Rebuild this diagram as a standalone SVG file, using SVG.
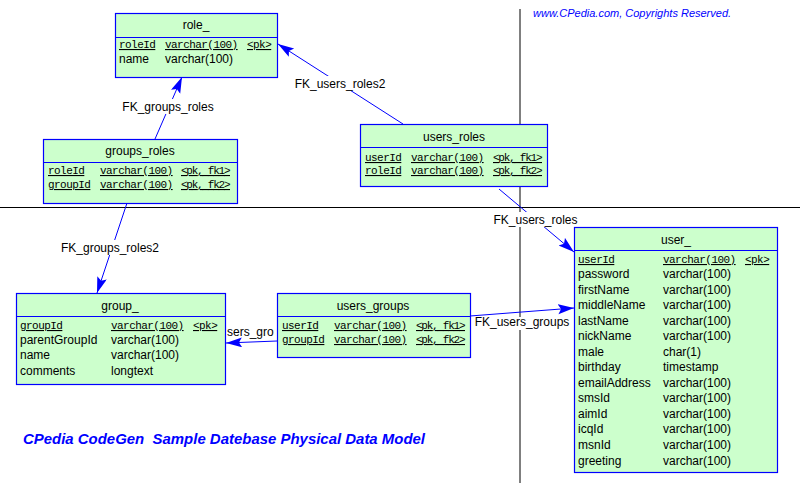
<svg xmlns="http://www.w3.org/2000/svg" width="810" height="483" viewBox="0 0 810 483">
<style>
.box{fill:#CCFFCC;stroke:#0000FF;stroke-width:1.2}
.div{stroke:#0000FF;stroke-width:1.2}
.t{font-family:"Liberation Sans",Arial,sans-serif;font-size:12px;fill:#000}
.ttl{font-family:"Liberation Sans",Arial,sans-serif;font-size:12px;fill:#000;text-anchor:middle}
.pk{font-family:"Liberation Mono","Courier New",monospace;font-size:11px;letter-spacing:-0.55px;fill:#000;text-decoration:underline}
.conn{stroke:#0000FF;stroke-width:1;fill:none;marker-end:url(#arr)}
.lbl{font-family:"Liberation Sans",Arial,sans-serif;font-size:12px;fill:#000;text-anchor:middle}
.bg{fill:#fff}
</style>
<defs>
<marker id="arr" markerUnits="userSpaceOnUse" markerWidth="17" markerHeight="11" refX="16" refY="5" orient="auto">
<path d="M0,0 L16,5 L0,10 L3,5 z" fill="#0000FF"/>
</marker>
</defs>
<rect width="810" height="483" fill="#fff"/>
<g id="frame">
<line x1="520" y1="9" x2="520" y2="483" stroke="#000"/>
<line x1="0" y1="207.5" x2="800" y2="207.5" stroke="#000"/>
</g>
<g id="connectors">
<line class="conn" x1="155" y1="139" x2="182" y2="77"/>
<line class="conn" x1="403" y1="124" x2="278" y2="44"/>
<line class="conn" x1="127" y1="203" x2="97" y2="293"/>
<line class="conn" x1="499" y1="189" x2="574" y2="252"/>
<line class="conn" x1="470" y1="316" x2="574" y2="308"/>
<line class="conn" x1="277" y1="341" x2="226" y2="343"/>
<rect class="bg" x="120" y="99" width="96" height="15"/>
<text class="lbl" x="168" y="111">FK_groups_roles</text>
<rect class="bg" x="292" y="76" width="96" height="15"/>
<text class="lbl" x="340" y="88">FK_users_roles2</text>
<rect class="bg" x="57" y="240" width="106" height="15"/>
<text class="lbl" x="110" y="252">FK_groups_roles2</text>
<rect class="bg" x="491" y="212" width="89" height="15"/>
<text class="lbl" x="535.5" y="224">FK_users_roles</text>
<rect class="bg" x="472" y="317" width="101" height="13"/>
<text class="lbl" x="522" y="326">FK_users_groups</text>
<text class="t" x="227" y="336">sers_gro</text>
</g>
<g id="role_">
<rect class="box" x="115.5" y="13.5" width="162" height="64"/>
<line class="div" x1="115.5" y1="37.5" x2="277.5" y2="37.5"/>
<text class="ttl" x="196" y="29">role_</text>
<text class="pk" x="119" y="48">roleId</text><text class="pk" x="165" y="48">varchar(100)</text><text class="pk" x="247" y="48">&lt;pk&gt;</text>
<text class="t" x="119" y="63">name</text><text class="t" x="165" y="63">varchar(100)</text>
</g>
<g id="groups_roles">
<rect class="box" x="43.5" y="139.5" width="194" height="64"/>
<line class="div" x1="43.5" y1="162.5" x2="237.5" y2="162.5"/>
<text class="ttl" x="140" y="155">groups_roles</text>
<text class="pk" x="48" y="174">roleId</text><text class="pk" x="100" y="174">varchar(100)</text><text class="pk" x="181" y="174" textLength="49">&lt;pk, fk1&gt;</text>
<text class="pk" x="48" y="188">groupId</text><text class="pk" x="100" y="188">varchar(100)</text><text class="pk" x="181" y="188" textLength="49">&lt;pk, fk2&gt;</text>
</g>
<g id="users_roles">
<rect class="box" x="360.5" y="124.5" width="187" height="62"/>
<line class="div" x1="360.5" y1="147.5" x2="547.5" y2="147.5"/>
<text class="ttl" x="454" y="141">users_roles</text>
<text class="pk" x="365" y="161">userId</text><text class="pk" x="411" y="161">varchar(100)</text><text class="pk" x="493" y="161" textLength="49">&lt;pk, fk1&gt;</text>
<text class="pk" x="365" y="174">roleId</text><text class="pk" x="411" y="174">varchar(100)</text><text class="pk" x="493" y="174" textLength="49">&lt;pk, fk2&gt;</text>
</g>
<g id="group_">
<rect class="box" x="16.5" y="293.5" width="209" height="91"/>
<line class="div" x1="16.5" y1="316.5" x2="225.5" y2="316.5"/>
<text class="ttl" x="120" y="310">group_</text>
<text class="pk" x="20" y="329">groupId</text><text class="pk" x="111" y="329">varchar(100)</text><text class="pk" x="193" y="329">&lt;pk&gt;</text>
<text class="t" x="20" y="344">parentGroupId</text><text class="t" x="111" y="344">varchar(100)</text>
<text class="t" x="20" y="359">name</text><text class="t" x="111" y="359">varchar(100)</text>
<text class="t" x="20" y="375">comments</text><text class="t" x="111" y="375">longtext</text>
</g>
<g id="users_groups">
<rect class="box" x="277.5" y="293.5" width="193" height="64"/>
<line class="div" x1="277.5" y1="316.5" x2="470.5" y2="316.5"/>
<text class="ttl" x="373" y="310">users_groups</text>
<text class="pk" x="282" y="329">userId</text><text class="pk" x="334" y="329">varchar(100)</text><text class="pk" x="416" y="329" textLength="49">&lt;pk, fk1&gt;</text>
<text class="pk" x="282" y="343">groupId</text><text class="pk" x="334" y="343">varchar(100)</text><text class="pk" x="416" y="343" textLength="49">&lt;pk, fk2&gt;</text>
</g>
<g id="user_">
<rect class="box" x="574.5" y="227.5" width="203" height="245"/>
<line class="div" x1="574.5" y1="250.5" x2="777.5" y2="250.5"/>
<text class="ttl" x="676" y="244">user_</text>
<text class="pk" x="578" y="263">userId</text><text class="pk" x="663" y="263">varchar(100)</text><text class="pk" x="745" y="263">&lt;pk&gt;</text>
<text class="t" x="578" y="278">password</text><text class="t" x="663" y="278">varchar(100)</text>
<text class="t" x="578" y="294">firstName</text><text class="t" x="663" y="294">varchar(100)</text>
<text class="t" x="578" y="309">middleName</text><text class="t" x="663" y="309">varchar(100)</text>
<text class="t" x="578" y="325">lastName</text><text class="t" x="663" y="325">varchar(100)</text>
<text class="t" x="578" y="340">nickName</text><text class="t" x="663" y="340">varchar(100)</text>
<text class="t" x="578" y="356">male</text><text class="t" x="663" y="356">char(1)</text>
<text class="t" x="578" y="371">birthday</text><text class="t" x="663" y="371">timestamp</text>
<text class="t" x="578" y="387">emailAddress</text><text class="t" x="663" y="387">varchar(100)</text>
<text class="t" x="578" y="402">smsId</text><text class="t" x="663" y="402">varchar(100)</text>
<text class="t" x="578" y="418">aimId</text><text class="t" x="663" y="418">varchar(100)</text>
<text class="t" x="578" y="433">icqId</text><text class="t" x="663" y="433">varchar(100)</text>
<text class="t" x="578" y="449">msnId</text><text class="t" x="663" y="449">varchar(100)</text>
<text class="t" x="578" y="465">greeting</text><text class="t" x="663" y="465">varchar(100)</text>
</g>
<g id="captions">
<text x="533" y="17" font-family="'Liberation Sans',Arial,sans-serif" font-size="11" font-style="italic" fill="#0000FF">www.CPedia.com, Copyrights Reserved.</text>
<text x="23" y="444" font-family="'Liberation Sans',Arial,sans-serif" font-size="14" font-style="italic" font-weight="bold" fill="#0000FF" textLength="402" lengthAdjust="spacingAndGlyphs">CPedia CodeGen&#160; Sample Datebase Physical Data Model</text>
</g>
</svg>
